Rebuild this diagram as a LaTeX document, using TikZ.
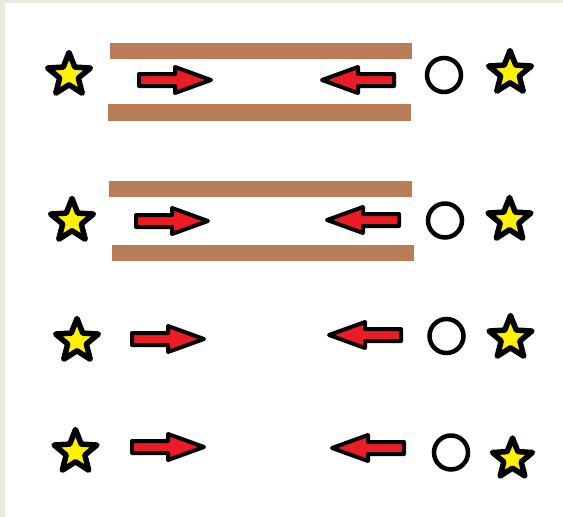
\documentclass[tikz,border=0pt]{standalone}
\usetikzlibrary{shapes.geometric}
\definecolor{barbrown}{RGB}{185,124,87}
\definecolor{arrred}{RGB}{237,28,36}
\definecolor{staryel}{RGB}{255,242,0}
\definecolor{edgegreen}{RGB}{232,236,220}
\tikzset{
  starnode/.style={star, star points=5, star point ratio=2.3, minimum size=45pt, inner sep=0pt, outer sep=0pt,
    draw=black, fill=staryel, line width=5.5pt, line join=round},
  ringnode/.style={circle, minimum size=34pt, inner sep=0pt, draw=black, line width=4.5pt},
  barfill/.style={fill=barbrown},
  barrow/.pic={\draw[black, fill=arrred, line width=4pt, line join=round]
     (0,-6) -- (36,-6) -- (36,-13) -- (72,0) -- (36,13) -- (36,6) -- (0,6) -- cycle;}
}
\begin{document}
\begin{tikzpicture}[x=1pt,y=-1pt]
\useasboundingbox (0,0) rectangle (563,517);
\fill[white] (0,0) rectangle (563,517);
\fill[edgegreen] (0,0) rectangle (563,3);
\fill[edgegreen] (0,0) rectangle (5,517);
% row 1
\fill[barfill] (110,43) rectangle (412,59);
\fill[barfill] (108,104) rectangle (411,121);
\node[starnode] (s1l) at (69,75) {};
\pic at (139,80) {barrow};
\pic[rotate=180] at (394,80) {barrow};
\node[ringnode] (c1) at (444,75) {};
\node[starnode] (s1r) at (510,73) {};
% row 2
\fill[barfill] (109,181) rectangle (412,197);
\fill[barfill] (112,245) rectangle (414,261);
\node[starnode] (s2l) at (72,221) {};
\pic at (136,221) {barrow};
\pic[rotate=180] at (399,220) {barrow};
\node[ringnode] (c2) at (445,220.5) {};
\node[starnode] (s2r) at (509.5,220) {};
% row 3
\node[starnode] (s3l) at (77,341) {};
\pic at (132,339) {barrow};
\pic[rotate=180] at (401,335) {barrow};
\node[ringnode] (c3) at (446.5,336) {};
\node[starnode] (s3r) at (510.5,338) {};
% row 4
\node[starnode] (s4l) at (75.5,452) {};
\pic at (132,447) {barrow};
\pic[rotate=180] at (404,448) {barrow};
\node[ringnode] (c4) at (451,452.5) {};
\node[starnode, minimum size=42pt] (s4r) at (512.5,459) {};
\end{tikzpicture}
\end{document}
